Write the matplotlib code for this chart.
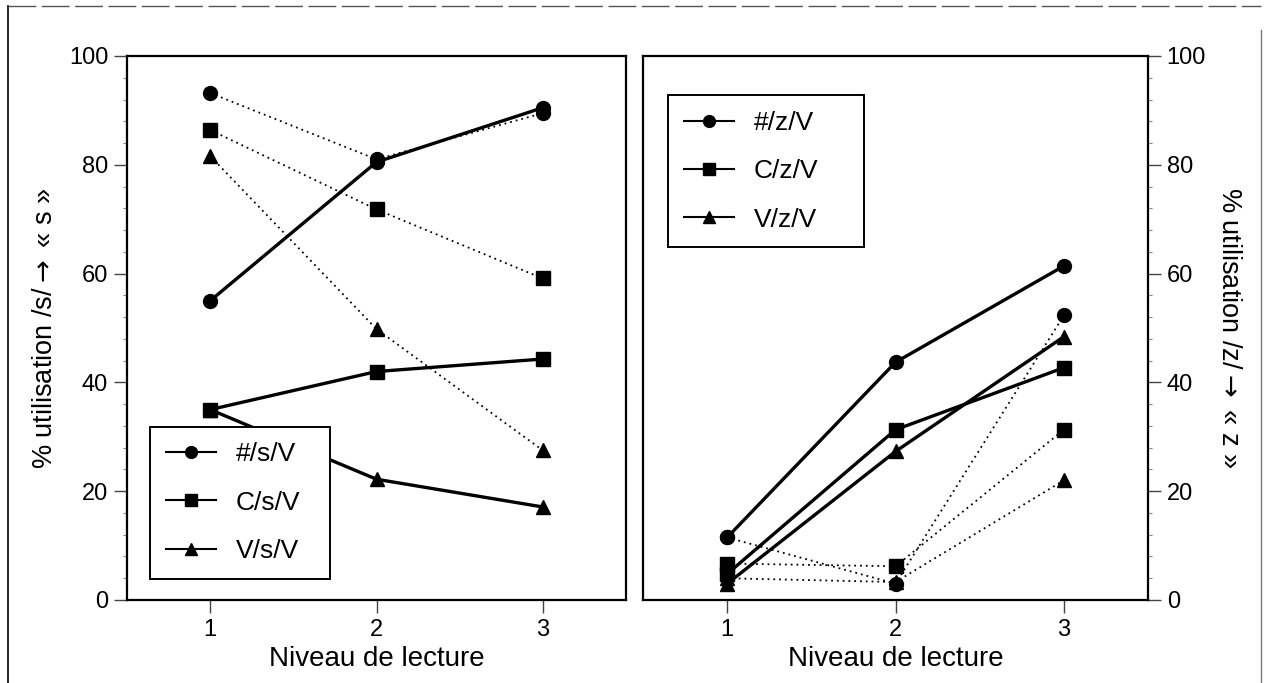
import matplotlib
matplotlib.use("Agg")
import matplotlib.pyplot as plt
from matplotlib.lines import Line2D
from matplotlib.ticker import MultipleLocator

plt.rcParams['font.family'] = ['Liberation Sans', 'DejaVu Sans']
plt.rcParams['mathtext.fontset'] = 'dejavusans'
plt.rcParams['font.size'] = 17

niveaux = [1, 2, 3]

# /s/ panel (left) - solid lines are in the legend, dotted lines are the other series
s_label = ["#/s/V", "C/s/V", "V/s/V"]
s_solid_hash = [55.0, 80.5, 90.5]
s_solid_c = [35.0, 42.0, 44.3]
s_solid_v = [35.0, 22.2, 17.1]
s_dot_hash = [93.2, 81.0, 89.5]
s_dot_c = [86.4, 71.8, 59.1]
s_dot_v = [81.6, 49.8, 27.5]

# /z/ panel (right)
z_label = ["#/z/V", "C/z/V", "V/z/V"]
z_solid_hash = [11.5, 43.7, 61.4]
z_solid_c = [4.8, 31.3, 42.7]
z_solid_v = [3.0, 27.3, 48.4]
z_dot_hash = [11.5, 3.0, 52.3]
z_dot_c = [6.7, 6.2, 31.3]
z_dot_v = [4.0, 3.3, 22.0]

markers = ['o', 's', '^']

fig = plt.figure(figsize=(12.65, 6.83), dpi=100)
ax1 = fig.add_axes([127/1265, 83/683, 499/1265, 544/683])
ax2 = fig.add_axes([643/1265, 83/683, 505/1265, 544/683])


def draw(ax, solids, dots, labels):
    for ys, m in zip(dots, markers):
        ax.plot(niveaux, ys, ls=(0, (1, 2.2)), lw=1.3, color='black',
                marker=m, ms=10, mfc='black', mec='black')
    for ys, m, lab in zip(solids, markers, labels):
        ax.plot(niveaux, ys, ls='-', lw=2.4, color='black',
                marker=m, ms=10, mfc='black', mec='black', label=lab)
    ax.set_xlim(0.5, 3.5)
    ax.set_ylim(0, 100)
    ax.set_xticks(niveaux)
    ax.set_yticks([0, 20, 40, 60, 80, 100])
    ax.yaxis.set_minor_locator(MultipleLocator(4))
    ax.tick_params(which='major', direction='out', length=9.5, width=1.0, color='#444444',
                   pad=4)
    ax.tick_params(which='minor', direction='out', length=3, width=0.8, color='#888888')
    ax.tick_params(axis='x', which='minor', bottom=False)
    for sp in ax.spines.values():
        sp.set_linewidth(1.6)
    ax.set_xlabel("Niveau de lecture", fontsize=20, labelpad=4)


draw(ax1, [s_solid_hash, s_solid_c, s_solid_v], [s_dot_hash, s_dot_c, s_dot_v], s_label)
draw(ax2, [z_solid_hash, z_solid_c, z_solid_v], [z_dot_hash, z_dot_c, z_dot_v], z_label)

ax1.set_ylabel("% utilisation /s/$\\rightarrow$ \u00ab s \u00bb", fontsize=19.5, labelpad=8)

ax2.yaxis.tick_right()
ax2.yaxis.set_label_position('right')
ax2.set_ylabel("% utilisation /z/$\\rightarrow$ \u00ab z \u00bb", fontsize=19.5, rotation=-90,
               labelpad=26)

leg_kw = dict(frameon=True, fancybox=False, edgecolor='black', framealpha=1,
              fontsize=19, handlelength=1.9, labelspacing=0.92, borderpad=0.6,
              handletextpad=0.75, borderaxespad=0, mode='expand')
leg1 = ax1.legend(loc='lower left', bbox_to_anchor=(0.046, 0.039, 0.361, 0.281), **leg_kw)
leg2 = ax2.legend(loc='upper left', bbox_to_anchor=(0.05, 0.656, 0.388, 0.272), **leg_kw)
for leg in (leg1, leg2):
    leg.get_frame().set_linewidth(1.4)
    for ln in leg.get_lines():
        ln.set_linewidth(1.5)
        ln.set_markersize(8.5)

# scanned page frame
fig.add_artist(Line2D([8/1265, 8/1265], [0, 1 - 6/683], color='black', lw=1.2))
fig.add_artist(Line2D([8/1265, 1261/1265], [1 - 6/683, 1 - 6/683], color='#555555', lw=1.0,
                      ls=(0, (20, 4))))
fig.add_artist(Line2D([1261/1265, 1261/1265], [0, 1 - 30/683], color='#777777', lw=1.0))

fig.savefig("out.png", dpi=100)
